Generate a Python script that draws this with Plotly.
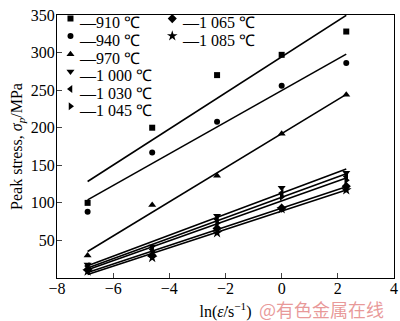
import numpy as np
import plotly.graph_objects as go

# strain rate ln values
x_vals = [-6.91, -4.61, -2.30, 0.0, 2.30]

labels = ["910 ℃", "940 ℃", "970 ℃", "1 000 ℃", "1 030 ℃", "1 045 ℃", "1 065 ℃", "1 085 ℃"]
s910 = [100, 200, 270, 297, 328]
s940 = [88, 167, 208, 256, 286]
s970 = [30, 97, 136, 192, 244]
s1000 = [18, 42, 83, 120, 140]
s1030 = [16, 38, 78, 113, 135]
s1045 = [14, 35, 73, 108, 130]
s1065 = [11, 30, 66, 93, 122]
s1085 = [9, 27, 60, 92, 117]
series = [s910, s940, s970, s1000, s1030, s1045, s1065, s1085]

symbols = ["square", "circle", "triangle-up", "triangle-down", "triangle-left",
           "triangle-right", "diamond", "star"]
msizes = [6, 6, 7, 7, 7, 7, 7, 8]

x_ticks = [-8, -6, -4, -2, 0, 2, 4]
y_ticks = [50, 100, 150, 200, 250, 300, 350]

FONT = "Liberation Serif, Times New Roman, serif"

W, H = 400, 321
ML, MR, MT, MB = 57, 2, 5, 43
PW, PH = W - ML - MR, H - MT - MB

# legend key layout (pixels): marker x, text left x, row y centre
leg_px = [(71, 77, 13), (71, 77, 31), (71, 77, 50), (71, 77, 68), (71, 77, 86), (71, 77, 104),
          (174, 181, 13), (174, 181, 31)]

fig = go.Figure()
xs = np.array(x_vals)
for ys in series:
    k, b = np.polyfit(xs, np.array(ys, dtype=float), 1)
    xl = np.array([xs.min(), xs.max()])
    fig.add_trace(go.Scatter(x=xl, y=k * xl + b, mode="lines",
                             line=dict(color="black", width=1.6),
                             showlegend=False, hoverinfo="skip"))

legends = {}
for i, (lab, ys) in enumerate(zip(labels, series)):
    lname = "legend" if i == 0 else f"legend{i + 1}"
    fig.add_trace(go.Scatter(x=x_vals, y=ys, mode="markers", name="",
                             hovertext=lab,
                             marker=dict(symbol=symbols[i], size=msizes[i], color="black"),
                             legend=lname))
    mx, tx, my = leg_px[i]
    legends[lname] = dict(
        font=dict(family=FONT, size=15, color="black"),
        bgcolor="rgba(0,0,0,0)", borderwidth=0, itemwidth=30,
        x=(mx - 20.6 - ML) / PW, y=1 - (my - 4 - MT) / PH,
        xanchor="left", yanchor="middle")
    fig.add_annotation(
        text="—" + lab,
        xref="paper", yref="paper", x=(tx - ML) / PW, y=1 - (my - MT) / PH,
        xanchor="left", yanchor="middle", showarrow=False,
        font=dict(family=FONT, size=16, color="black"))

fig.update_layout(
    width=W, height=H,
    margin=dict(l=ML, r=MR, t=MT, b=MB),
    paper_bgcolor="white", plot_bgcolor="white",
    font=dict(family=FONT, size=16, color="black"),
    xaxis=dict(range=[-8, 4], tickvals=x_ticks, ticks="inside", ticklen=5,
               showline=True, linecolor="black", linewidth=1, mirror=True,
               showgrid=False, zeroline=False, ticklabeloverflow="allow",
               ticklabelstandoff=-4,
               tickfont=dict(family=FONT, size=16),
               title=dict(text="ln(<i>ε̇</i>/s<sup>−1</sup>)", standoff=10,
                          font=dict(family=FONT, size=16))),
    yaxis=dict(range=[0, 350], tickvals=y_ticks, ticks="inside", ticklen=5,
               showline=True, linecolor="black", linewidth=1, mirror=True,
               showgrid=False, zeroline=False, ticklabeloverflow="allow",
               ticklabelstandoff=-2,
               tickfont=dict(family=FONT, size=16),
               title=dict(text="Peak stress, <i>σ</i><sub><i>p</i></sub>/MPa", standoff=4,
                          font=dict(family=FONT, size=16))),
    **legends,
)
fig.add_annotation(text="@有色金属在线", xref="paper", yref="paper",
                   x=(390 - ML) / PW, y=-(310 - (MT + PH)) / PH, xanchor="right", yanchor="middle",
                   showarrow=False,
                   font=dict(family="Noto Sans CJK SC", size=18, color="rgba(225,120,120,0.75)"))

fig.write_html("out.html", config={"displayModeBar": False},
               post_script="document.body.style.margin='0';")
